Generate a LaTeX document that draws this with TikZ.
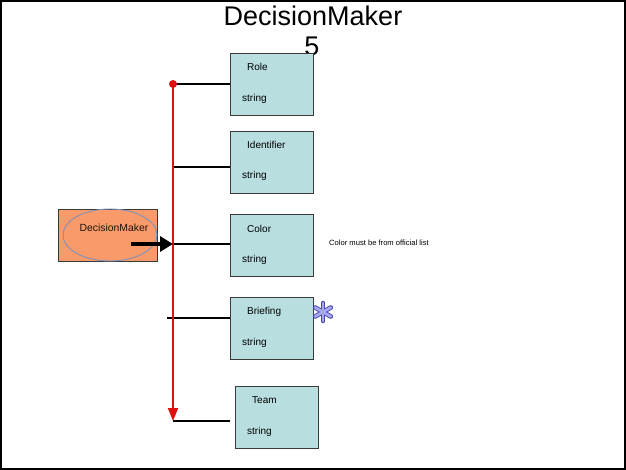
\documentclass[tikz,border=0pt]{standalone}
\usepackage{fontspec}
\setmainfont{Liberation Sans}
\usetikzlibrary{arrows.meta}
\definecolor{boxfill}{HTML}{B8DEE0}
\definecolor{boxline}{HTML}{3A3A3A}
\definecolor{orangefill}{HTML}{F99A6B}
\definecolor{ellline}{HTML}{7E92B8}
\definecolor{redline}{HTML}{E01010}
\definecolor{starfill}{HTML}{A8A8F0}
\definecolor{starline}{HTML}{4848B0}
\tikzset{
  attrbox/.style={draw=boxline, line width=0.9pt, fill=boxfill, minimum width=83pt, minimum height=62pt, anchor=north west, inner sep=0pt},
  lbl/.style={font=\fontsize{10}{12}\selectfont, anchor=west, inner sep=0pt},
  conn/.style={line width=2.4pt, black},
}
\begin{document}
\begin{tikzpicture}[x=1pt,y=-1pt]
\useasboundingbox (0,0) rectangle (626,470);
\draw[line width=1.6pt] (0.8,0.8) rectangle (625.2,469.2);

% title
\node[font=\fontsize{27}{30}\selectfont, inner sep=0pt] (title) at (313,16) {DecisionMaker};
\node[font=\fontsize{27}{30}\selectfont, inner sep=0pt] (num) at (312,46) {5};

% attribute boxes
\node[attrbox] (role) at (230,53) {};
\node[attrbox] (ident) at (230,131) {};
\node[attrbox] (color) at (230,214) {};
\node[attrbox] (brief) at (230,297) {};
\node[attrbox] (team) at (235,386) {};

\node[lbl] (roleN) at (247,67) {Role};
\node[lbl] (roleT) at (242,99) {string};
\node[lbl] (identN) at (247,145) {Identifier};
\node[lbl] (identT) at (242,176) {string};
\node[lbl] (colorN) at (247,229) {Color};
\node[lbl] (colorT) at (242,260) {string};
\node[lbl] (briefN) at (247,312) {Briefing};
\node[lbl] (briefT) at (242,343) {string};
\node[lbl] (teamN) at (252,400) {Team};
\node[lbl] (teamT) at (247,432) {string};

% note
\node[font=\fontsize{7.6}{9}\selectfont, anchor=west, inner sep=0pt] (note) at (329,243) {Color must be from official list};

% decision maker box
\node[draw=boxline, line width=0.9pt, fill=orangefill, minimum width=99pt, minimum height=52pt, inner sep=0pt] (dm) at (107.5,235) {};
\draw[ellline, line width=0.9pt] (110,235) ellipse (47pt and 26pt);
\node[font=\fontsize{10.4}{12}\selectfont, text=black!85!brown, inner sep=0pt] (dmL) at (114,228) {DecisionMaker};

% coordinates on the red bus
\coordinate (top) at (173,84);
\coordinate (bot) at (173,421);
\coordinate (busI) at (173,167);
\coordinate (busC) at (173,244);
\coordinate (busB) at (167,318);
\coordinate (arrS) at (131,244);

% connectors
\draw[conn] (top) -- (role.west |- top);
\draw[conn] (busI) -- (ident.west |- busI);
\draw[conn] (busC) -- (color.west |- busC);
\draw[conn] (busB) -- (brief.west |- busB);
\draw[conn] (bot) -- (230,421);

% red bus
\draw[redline, line width=2pt, -{Triangle[length=13pt,width=10pt]}] (top) -- (bot);
\fill[redline] (top) circle (4pt);

% black arrow
\draw[line width=3.2pt, -{Triangle[length=13pt,width=15pt]}] (arrS) -- (busC);

% asterisk
\begin{scope}[shift={(323,312)}]
  \foreach \a in {90,150,210,270,330,30} {
    \draw[starline, line width=4.6pt, line cap=round] (0,0) -- (\a:9);
  }
  \foreach \a in {90,150,210,270,330,30} {
    \draw[starfill, line width=2.8pt, line cap=round] (0,0) -- (\a:9);
  }
\end{scope}
\end{tikzpicture}
\end{document}
